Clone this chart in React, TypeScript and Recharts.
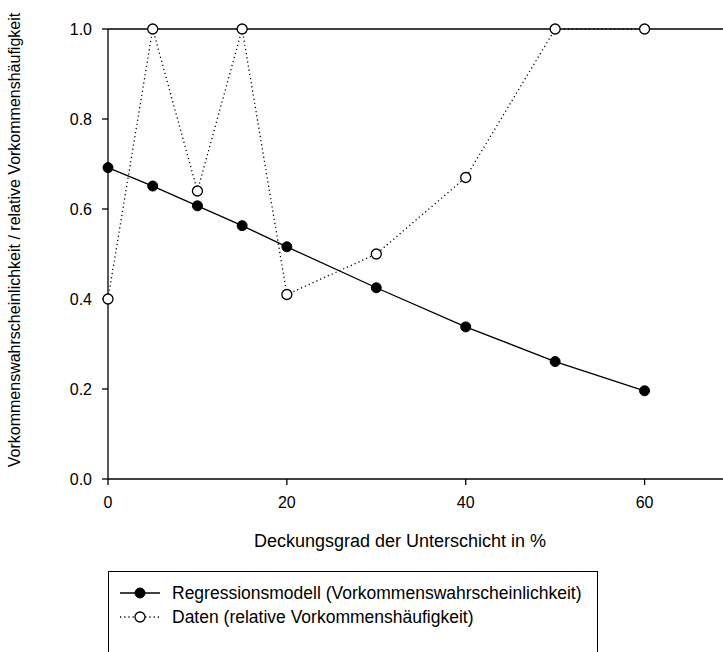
import React from 'react';
import { ComposedChart, Line, XAxis, YAxis, ReferenceLine, Legend } from 'recharts';

const xValues = [0, 5, 10, 15, 20, 30, 40, 50, 60];
const modelValues = [0.692, 0.651, 0.607, 0.563, 0.516, 0.425, 0.338, 0.261, 0.196];
const dataValues = [0.40, 1.0, 0.64, 1.0, 0.41, 0.50, 0.67, 1.0, 1.0];
const xTicks = [0, 20, 40, 60];
const yTicks = [0, 0.2, 0.4, 0.6, 0.8, 1.0];
const seriesNames = [
  'Regressionsmodell (Vorkommenswahrscheinlichkeit)',
  'Daten (relative Vorkommenshäufigkeit)',
];
const xTitle = 'Deckungsgrad der Unterschicht in %';
const yTitle = 'Vorkommenswahrscheinlichkeit / relative Vorkommenshäufigkeit';

const rows = xValues.map((x, i) => ({ x, model: modelValues[i], data: dataValues[i] }));

const FONT = '"Liberation Sans", Arial, sans-serif';

const LegendBox = () => (
  <svg width={492} height={130} style={{ display: 'block' }}>
    <rect x={0.5} y={0.5} width={489} height={140} fill="#fff" stroke="#000" strokeWidth={1} />
    <line x1={12} x2={52} y1={22} y2={22} stroke="#000" strokeWidth={1.3} />
    <circle cx={32} cy={22} r={5} fill="#000" stroke="#000" />
    <text x={64} y={22} dominantBaseline="central" fontFamily={FONT} fontSize={17.5} fill="#000">
      {seriesNames[0]}
    </text>
    <line x1={12} x2={52} y1={46} y2={46} stroke="#000" strokeWidth={1.3} strokeDasharray="1.2 3" />
    <circle cx={32} cy={46} r={5} fill="#fff" stroke="#000" strokeWidth={1.3} />
    <text x={64} y={46} dominantBaseline="central" fontFamily={FONT} fontSize={17.5} fill="#000">
      {seriesNames[1]}
    </text>
  </svg>
);

export default function App() {
  return (
    <div style={{ position: 'fixed', left: 0, top: 0, width: 723, height: 652, overflow: 'hidden', background: '#fff' }}>
      <ComposedChart
        width={740}
        height={700}
        data={rows}
        margin={{ top: 29, right: 6, left: 0, bottom: 191 }}
      >
        <ReferenceLine y={1} stroke="#000" strokeWidth={1.3} ifOverflow="extendDomain" />
        <XAxis
          dataKey="x"
          type="number"
          domain={[0, 70]}
          ticks={xTicks}
          height={30}
          axisLine={{ stroke: '#000', strokeWidth: 1.3 }}
          tickLine={{ stroke: '#000', strokeWidth: 1.3 }}
          tickSize={6}
          tickMargin={12}
          tick={{ fill: '#000', fontSize: 16, fontFamily: FONT }}
          label={({ viewBox }: any) => (
            <text x={400} y={viewBox.y + 62} textAnchor="middle" dominantBaseline="central" fontFamily={FONT} fontSize={18} fill="#000">
              {xTitle}
            </text>
          )}
        />
        <YAxis
          type="number"
          domain={[0, 1]}
          ticks={yTicks}
          width={108}
          axisLine={{ stroke: '#000', strokeWidth: 1.3 }}
          tickLine={{ stroke: '#000', strokeWidth: 1.3 }}
          tickSize={6}
          tickMargin={10}
          tickFormatter={(v: number) => v.toFixed(1)}
          tick={{ fill: '#000', fontSize: 16, fontFamily: FONT }}
          label={() => {
            const cx = 14;
            const cy = 240;
            return (
              <text x={cx} y={cy} transform={`rotate(-90, ${cx}, ${cy})`} textAnchor="middle" dominantBaseline="central" fontFamily={FONT} fontSize={16} fill="#000">
                {yTitle}
              </text>
            );
          }}
        />
        <Line
          dataKey="data"
          name={seriesNames[1]}
          type="linear"
          stroke="#000"
          strokeWidth={1.3}
          strokeDasharray="1.2 3"
          dot={{ r: 5, fill: '#fff', stroke: '#000', strokeWidth: 1.3, strokeDasharray: '0' }}
          isAnimationActive={false}
        />
        <Line
          dataKey="model"
          name={seriesNames[0]}
          type="linear"
          stroke="#000"
          strokeWidth={1.3}
          dot={{ r: 5, fill: '#000', stroke: '#000', strokeWidth: 1 }}
          isAnimationActive={false}
        />
        <Legend
          layout="vertical"
          align="center"
          verticalAlign="middle"
          wrapperStyle={{ left: 108, top: 571, width: 492, height: 130 }}
          content={() => <LegendBox />}
        />
      </ComposedChart>
    </div>
  );
}
